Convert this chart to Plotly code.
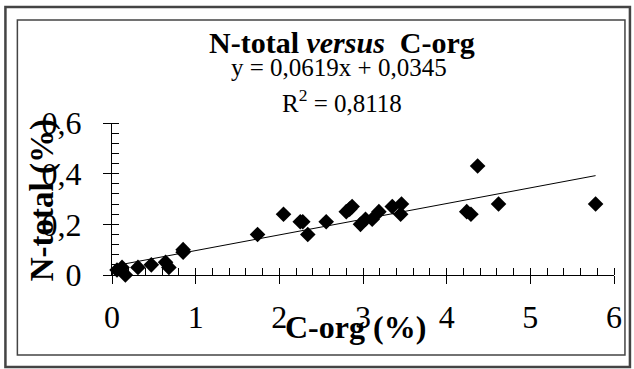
import plotly.graph_objects as go

# Data
c_org = [0.06, 0.12, 0.16, 0.31, 0.47, 0.64, 0.68, 0.85, 0.85, 1.74,
         2.05, 2.25, 2.28, 2.34, 2.56, 2.80, 2.84, 2.87, 2.97, 3.03,
         3.11, 3.19, 3.35, 3.46, 3.45, 4.24, 4.29, 4.37, 4.62, 5.78]
n_total = [0.02, 0.03, 0.00, 0.03, 0.04, 0.05, 0.03, 0.10, 0.09, 0.16,
           0.24, 0.21, 0.21, 0.16, 0.21, 0.25, 0.26, 0.27, 0.20, 0.22,
           0.22, 0.25, 0.27, 0.28, 0.24, 0.25, 0.24, 0.43, 0.28, 0.28]
slope = 0.0619
intercept = 0.0345
r2_text = "0,8118"
x_ticks = [0, 1, 2, 3, 4, 5, 6]
y_ticks = [0, 0.2, 0.4, 0.6]

W, H = 634, 369
L, R, T, B = 112, 616, 123, 275  # plot area pixel box


def px(x):
    return (x - L) / (R - L)


def py(y):
    return (B - y) / (B - T)


FONT = "Liberation Serif, Times New Roman, serif"

trend_x = [min(c_org), max(c_org)]
trend_y = [slope * v + intercept for v in trend_x]

fig = go.Figure()
fig.add_trace(go.Scatter(x=trend_x, y=trend_y, mode="lines",
                         line=dict(color="black", width=1), showlegend=False,
                         hoverinfo="skip"))
fig.add_trace(go.Scatter(x=c_org, y=n_total, mode="markers",
                         marker=dict(symbol="diamond", size=12, color="black"),
                         showlegend=False, cliponaxis=False))
# dummy trace to create overlay axes for inside half of crossing major ticks
fig.add_trace(go.Scatter(x=[None], y=[None], xaxis="x2", yaxis="y2",
                         showlegend=False, hoverinfo="skip"))

tickfont = dict(family=FONT, size=32, color="black")

fig.update_layout(
    width=W, height=H, autosize=False,
    margin=dict(l=L, r=W - R, t=T, b=H - B, pad=0),
    paper_bgcolor="white", plot_bgcolor="white",
    separators=", ",
    xaxis=dict(range=[0, 6], tickvals=x_ticks, ticks="outside", ticklen=8,
               tickcolor="black", tickwidth=1, showline=True, linecolor="black",
               linewidth=1, showgrid=False, zeroline=False, tickfont=tickfont,
               ticklabelstandoff=6,
               minor=dict(dtick=0.2, ticks="inside", ticklen=7,
                          tickcolor="black", tickwidth=1, showgrid=False)),
    yaxis=dict(range=[0, 0.6], tickvals=y_ticks, ticks="outside", ticklen=8,
               tickcolor="black", tickwidth=1, showline=True, linecolor="black",
               linewidth=1, showgrid=False, zeroline=False, tickfont=tickfont,
               ticklabelstandoff=15,
               minor=dict(dtick=0.04, ticks="inside", ticklen=7,
                          tickcolor="black", tickwidth=1, showgrid=False)),
    xaxis2=dict(range=[0, 6], overlaying="x", anchor="y", side="bottom",
                tickvals=x_ticks, ticks="inside", ticklen=7, tickcolor="black",
                showticklabels=False, showline=False, showgrid=False,
                zeroline=False),
    yaxis2=dict(range=[0, 0.6], overlaying="y", anchor="x", side="left",
                tickvals=y_ticks, ticks="inside", ticklen=7, tickcolor="black",
                showticklabels=False, showline=False, showgrid=False,
                zeroline=False),
    showlegend=False,
)

annos = [
    dict(text="<b>N-total <i>versus</i>\u00a0 C-org</b>", x=px(343), y=py(42),
         font=dict(family=FONT, size=30, color="black")),
    dict(text="y = 0,0619x + 0,0345", x=px(340), y=py(68),
         font=dict(family=FONT, size=25, color="black")),
    dict(text="R<sup>2</sup> = " + r2_text, x=px(343), y=py(101),
         font=dict(family=FONT, size=25, color="black")),
    dict(text="<b>N-total (%)</b>", x=px(42), y=py(200), textangle=-90,
         font=dict(family=FONT, size=33, color="black")),
    dict(text="<b>C-org (%)</b>", x=px(356), y=py(327),
         font=dict(family=FONT, size=32, color="black")),
]
for a in annos:
    fig.add_annotation(xref="paper", yref="paper", showarrow=False,
                       xanchor="center", yanchor="middle", **a)

# double frame
fig.add_shape(type="rect", xref="paper", yref="paper",
              x0=px(5), x1=px(632), y0=py(367), y1=py(7),
              line=dict(color="#444444", width=2.5), layer="below")
fig.add_shape(type="rect", xref="paper", yref="paper",
              x0=px(17), x1=px(627), y0=py(355), y1=py(20),
              line=dict(color="#444444", width=1.5), layer="below")

fig.write_html("out.html", config={"displayModeBar": False},
               post_script="document.body.style.margin='0';")
